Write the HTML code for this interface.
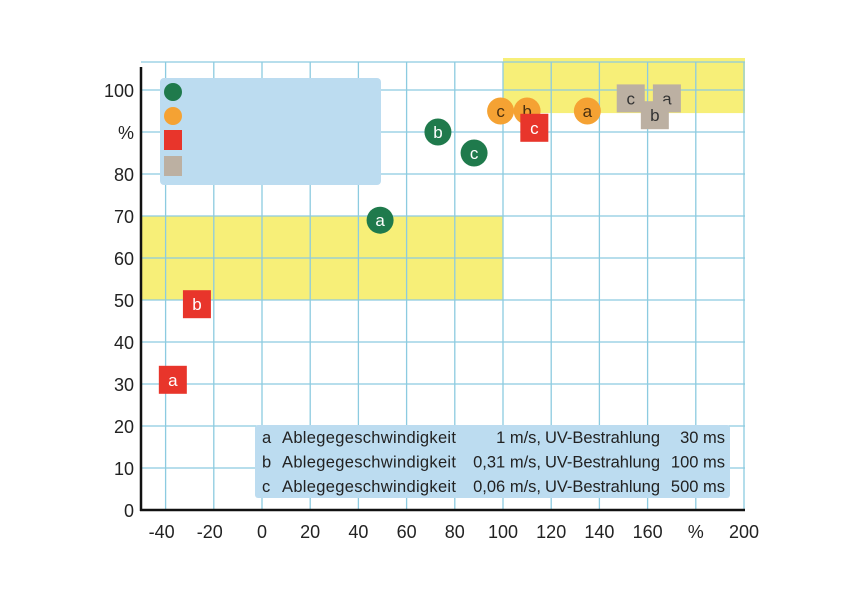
<!DOCTYPE html>
<html><head><meta charset="utf-8"><style>
body{margin:0;background:#fff;}
svg text{font-family:"Liberation Sans",sans-serif;}
</style></head><body>
<svg width="854" height="606" viewBox="0 0 854 606">
<g id="bg"></g>
<g id="grid"></g>
<g id="marks"></g>
<g id="axes"></g>
</svg>
<script>
const xTicks=[-40,-20,0,20,40,60,80,100,120,140,160,180,200];
const xTickLabels=["-40","-20","0","20","40","60","80","100","120","140","160","%","200"];
const yTicks=[0,10,20,30,40,50,60,70,80,90,100];
const yTickLabels=["0","10","20","30","40","50","60","70","80","%","100"];
const seriesNames=["green","orange","red","gray"];
const pointLabels=["a","b","c"];
const greenX=[49,73,88], greenY=[69,90,85];
const orangeX=[135,110,99], orangeY=[95,95,95];
const redX=[-37,-27,113], redY=[31,49,91];
const grayX=[168,163,153], grayY=[98,94,98];
const legendRows=[["a","Ablegegeschwindigkeit","1 m/s,","UV-Bestrahlung","30 ms"],["b","Ablegegeschwindigkeit","0,31 m/s,","UV-Bestrahlung","100 ms"],["c","Ablegegeschwindigkeit","0,06 m/s,","UV-Bestrahlung","500 ms"]];

const NS="http://www.w3.org/2000/svg";
const X=v=>262+v*2.41, Y=v=>510-v*4.2;
function mk(parent,tag,attrs){const e=document.createElementNS(NS,tag);for(const k in attrs)e.setAttribute(k,attrs[k]);document.getElementById(parent).appendChild(e);return e;}
const L=141,R=745,T=62,B=510;
let e=mk('bg','rect',{x:L,y:Y(70),width:X(100)-L,height:Y(50)-Y(70),fill:'#f7ef78'});


e=mk('bg','rect',{x:X(100),y:58,width:R-X(100),height:Y(94.5)-58,fill:'#f7ef78'});


xTicks.forEach(v=>{const g=mk('grid','line',{x1:X(v),x2:X(v),y1:T,y2:B,stroke:'#8ccbe0','stroke-width':1.3});

});
yTicks.forEach(v=>{const g=mk('grid','line',{x1:L,x2:R,y1:Y(v),y2:Y(v),stroke:'#8ccbe0','stroke-width':1.3});

});
mk('grid','line',{x1:L,x2:R,y1:T,y2:T,stroke:'#8ccbe0','stroke-width':1.3});
e=mk('marks','rect',{x:160,y:78,width:221,height:107,rx:4,fill:'#bcdcf0'});


const legCols=['#1f7a4c','#f5a233','#e8352b','#bcb0a2'];
legCols.forEach((c,i)=>{let m;if(i<2)m=mk('marks','circle',{cx:173,cy:92+i*24,r:9,fill:c});else m=mk('marks','rect',{x:164,y:130+(i-2)*26,width:18,height:20,fill:c});

});
function drawSeries(xs,ys,color,shape,name){xs.forEach((xv,i)=>{const cx=X(xv),cy=Y(ys[i]);let m;
if(shape==='c')m=mk('marks','circle',{cx:cx,cy:cy,r:13.5,fill:color});else m=mk('marks','rect',{x:cx-14,y:cy-14,width:28,height:28,fill:color});


const t=mk('marks','text',{x:cx,y:cy+6,'text-anchor':'middle','font-size':17,fill:name==='gray'?'#333':(name==='orange'?'#4a3010':'#fff')});t.textContent=pointLabels[i];

});}
drawSeries(greenX,greenY,'#1f7a4c','c','green');
drawSeries(orangeX,orangeY,'#f5a233','c','orange');
drawSeries(redX,redY,'#e8352b','s','red');
drawSeries(grayX,grayY,'#bcb0a2','s','gray');
e=mk('marks','rect',{x:255,y:425,width:475,height:73,rx:3,fill:'#bcdcf0'});


const colX=[262,282,541,545,725],anch=['start','start','end','start','end'];
const colW=[0,174,0,115,0];
legendRows.forEach((r,i)=>{r.forEach((s,j)=>{const a={x:colX[j],y:443+i*24.5,'font-size':16.5,'text-anchor':anch[j],fill:'#222'};
if(colW[j])a.textLength=colW[j];
const t=mk('marks','text',a);t.textContent=s;

});});
e=mk('axes','line',{x1:L,x2:L,y1:T+5,y2:B+1,stroke:'#111','stroke-width':2.5});


e=mk('axes','line',{x1:L-1,x2:R,y1:B,y2:B,stroke:'#111','stroke-width':2.5});


xTicks.forEach((v,i)=>{const t=mk('axes','text',{x:X(v)-(i<2?4:0),y:538,'text-anchor':'middle','font-size':18,fill:'#222'});t.textContent=xTickLabels[i];

});
yTicks.forEach((v,i)=>{const t=mk('axes','text',{x:134,y:Y(v)+7,'text-anchor':'end','font-size':18,fill:'#222'});t.textContent=yTickLabels[i];

});
</script>
</body></html>
